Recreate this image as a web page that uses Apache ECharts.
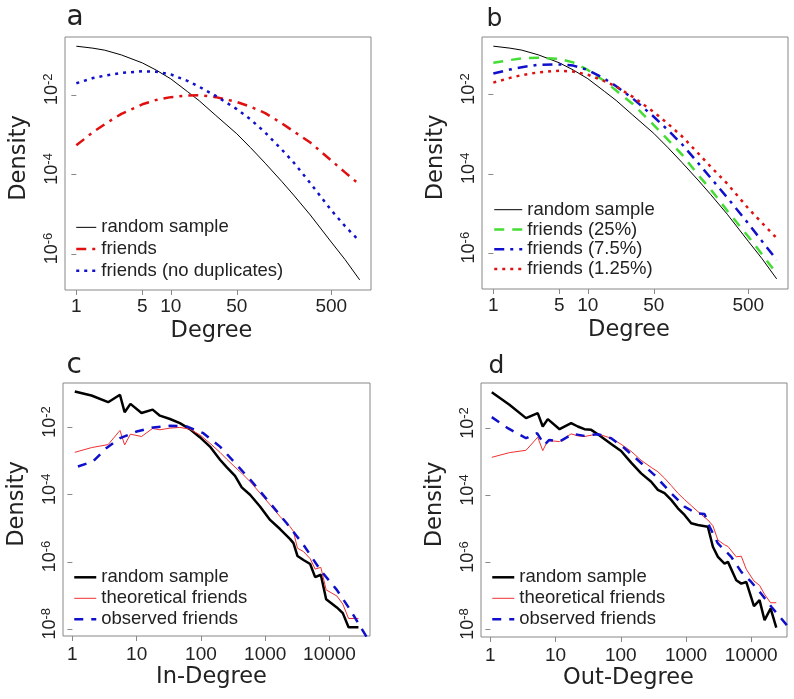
<!DOCTYPE html>
<html><head><meta charset="utf-8">
<script src="https://cdn.jsdelivr.net/npm/echarts@6/dist/echarts.min.js"></script>
<style>html,body{margin:0;padding:0;background:#fff}#c{width:794px;height:699px}</style>
</head><body><div id="c"></div>
<script>
// ---------- DATA (degree values; densities stored as log10 of density) ----------
// Panels a & b : shared degree grid
const degreeAB = [1, 1.5, 2, 3, 5, 7, 10, 15, 20, 30, 50, 70, 100, 150, 200, 300, 500, 700, 1000];
const randomSampleLog10 = [-0.78, -0.83, -0.88, -1.00, -1.20, -1.38, -1.60, -1.92, -2.15, -2.52, -2.98, -3.33, -3.72, -4.18, -4.52, -5.02, -5.70, -6.14, -6.65];
const aFriendsLog10 = [-3.27, -2.94, -2.74, -2.48, -2.24, -2.13, -2.06, -2.02, -2.01, -2.06, -2.18, -2.30, -2.46, -2.72, -2.92, -3.20, -3.65, -3.95, -4.26];
const aFriendsNoDupLog10 = [-1.71, -1.58, -1.52, -1.45, -1.41, -1.42, -1.49, -1.65, -1.80, -2.03, -2.36, -2.62, -2.95, -3.38, -3.70, -4.22, -4.90, -5.30, -5.68];
const bFriends25Log10 = [-1.20, -1.13, -1.09, -1.07, -1.10, -1.19, -1.38, -1.66, -1.90, -2.24, -2.77, -3.13, -3.52, -4.05, -4.39, -4.93, -5.58, -6.03, -6.52];
const bFriends75Log10 = [-1.47, -1.37, -1.31, -1.25, -1.24, -1.27, -1.38, -1.60, -1.79, -2.10, -2.56, -2.89, -3.26, -3.75, -4.10, -4.60, -5.25, -5.70, -6.17];
const bFriends125Log10 = [-1.70, -1.58, -1.51, -1.44, -1.40, -1.42, -1.50, -1.66, -1.80, -2.06, -2.44, -2.73, -3.06, -3.50, -3.82, -4.25, -4.87, -5.24, -5.62];

// Panel c : in-degree
const cInDegree = [1.09, 1.98, 3.6, 5.5, 6.5, 8.0, 11.9, 17.7, 23, 33, 47, 67, 96, 138, 198, 251, 339, 431, 581, 830, 1190, 1700, 2440, 2750, 3170, 3940, 5000, 5980, 7330, 8870, 13000, 16100, 19800, 28200];
const cRandomLog10 = [-0.93, -1.05, -1.25, -1.03, -1.55, -1.30, -1.57, -1.47, -1.65, -1.75, -1.87, -2.05, -2.29, -2.57, -2.96, -3.18, -3.44, -3.78, -4.00, -4.35, -4.75, -5.02, -5.32, -5.44, -5.82, -5.94, -6.06, -6.45, -6.38, -7.11, -7.35, -7.52, -7.94, -7.94];
const cTheoreticalLog10 = [-2.74, -2.60, -2.51, -2.09, -2.52, -2.20, -2.27, -2.03, -2.07, -2.02, -2.00, -2.05, -2.22, -2.47, -2.74, -2.94, -3.18, -3.36, -3.61, -3.95, -4.30, -4.65, -4.95, -5.09, -5.59, -5.69, -5.90, -6.21, -6.16, -6.83, -7.01, -7.25, -7.68, -7.68];
const cObsDegree = [1.22, 2.1, 3.4, 5.5, 10, 18, 33, 60, 109, 198, 360, 655, 1190, 2160, 3940, 7160, 13000, 21000, 39800];
const cObservedLog10 = [-3.16, -3.01, -2.61, -2.32, -2.12, -2.00, -1.95, -1.97, -2.17, -2.57, -3.11, -3.66, -4.25, -4.85, -5.49, -6.23, -6.83, -7.42, -8.30];

// Panel d : out-degree
const dOutDegree = [1.05, 1.96, 3.52, 5.32, 6.35, 7.59, 11.5, 17.3, 21.9, 27.7, 35.1, 44.4, 71.1, 101, 144, 205, 292, 370, 468, 592, 750, 948, 1200, 1520, 2160, 2580, 3080, 3890, 4390, 5890, 7030, 8380, 11000, 13400, 16000, 19800, 24200];
const dRandomLog10 = [-0.92, -1.29, -1.69, -1.54, -1.94, -1.72, -2.02, -1.84, -1.94, -2.02, -2.04, -2.17, -2.46, -2.67, -3.02, -3.34, -3.59, -3.83, -3.93, -4.13, -4.38, -4.58, -4.83, -4.88, -4.93, -5.53, -5.83, -6.03, -5.98, -6.53, -6.63, -6.58, -7.30, -7.12, -7.72, -7.37, -7.94];
const dTheoreticalLog10 = [-2.86, -2.72, -2.65, -2.26, -2.66, -2.36, -2.39, -2.16, -2.22, -2.24, -2.20, -2.16, -2.29, -2.47, -2.68, -2.95, -3.16, -3.29, -3.48, -3.70, -3.93, -4.12, -4.30, -4.48, -4.73, -4.90, -5.33, -5.47, -5.52, -5.83, -5.81, -6.20, -6.55, -6.68, -6.95, -7.20, -7.20];
const dObsDegree = [1.05, 1.85, 3.52, 5.2, 6.75, 8.0, 11.5, 18.3, 27.7, 44.4, 71.1, 114, 182, 329, 592, 948, 1430, 1920, 2300, 3080, 4930, 7030, 10000, 14200, 20300, 36300];
const dObservedLog10 = [-1.66, -1.99, -2.29, -2.14, -2.49, -2.34, -2.39, -2.16, -2.22, -2.17, -2.29, -2.59, -2.94, -3.39, -3.93, -4.33, -4.53, -4.55, -4.93, -5.43, -5.83, -6.28, -6.58, -6.93, -7.32, -7.90];

// tick labels
const xTicksAB = [1, 5, 10, 50, 500];
const xTicksCD = [1, 10, 100, 1000, 10000];
const yTicksAB = [-2, -4, -6];
const yTicksCD = [-2, -4, -6, -8];
const panelLetters = ['a', 'b', 'c', 'd'];
const xNames = ['Degree', 'Degree', 'In-Degree', 'Out-Degree'];
const legendA = ['random sample', 'friends', 'friends (no duplicates)'];
const legendB = ['random sample', 'friends (25%)', 'friends (7.5%)', 'friends (1.25%)'];
const legendCD = ['random sample', 'theoretical friends', 'observed friends'];

// ---------- CHART ----------
const FONT = 'Liberation Sans, Arial, sans-serif';
const TFONT = 'DejaVu Sans, sans-serif';
const TXT = '#222';
const BOX = '#888';
const RED = '#e01010', BLUE = '#1010cc', GREEN = '#44dd33';

const pts = (xs, ys) => xs.map((x, i) => [Math.log10(x), ys[i]]);
const log = v => Math.log10(v);

const grids = [
  {left: 65, top: 37, width: 306, height: 253},
  {left: 482, top: 37, width: 306, height: 252},
  {left: 63, top: 383, width: 307, height: 253},
  {left: 481, top: 383, width: 306, height: 254}
].map(g => Object.assign(g, {show: true, borderColor: BOX, borderWidth: 1, containLabel: false}));

const xRanges = [[-0.12, 3.12], [-0.12, 3.12], [-0.146, 4.63], [-0.144, 4.548]];
const yRanges = [[-6.905, -0.549], [-6.905, -0.549], [-8.2, -0.679], [-8.222, -0.642]];
const xNamePad = [13, 12, 10, 11];

const xAxes = [0, 1, 2, 3].map(i => {
  const ticks = (i < 2 ? xTicksAB : xTicksCD).map(log);
  return {
    type: 'value', gridIndex: i, min: xRanges[i][0], max: xRanges[i][1],
    axisLine: {show: false}, splitLine: {show: false},
    axisTick: {show: true, customValues: ticks, length: 5, lineStyle: {color: BOX, width: 1}},
    axisLabel: {customValues: ticks, margin: i < 2 ? 7 : 9, fontFamily: FONT, fontSize: 19, color: TXT,
      formatter: v => String(Math.round(Math.pow(10, v)))},
    name: xNames[i], nameLocation: 'middle', nameGap: 30,
    nameTextStyle: {fontFamily: TFONT, fontSize: 22.5, color: TXT, padding: [0, xNamePad[i], 0, 0]}
  };
});

const yAxes = [0, 1, 2, 3].map(i => {
  const ticks = (i < 2 ? yTicksAB : yTicksCD);
  return {
    type: 'value', gridIndex: i, min: yRanges[i][0], max: yRanges[i][1],
    axisLine: {show: false}, splitLine: {show: false},
    axisTick: {show: true, customValues: ticks, length: 5, lineStyle: {color: BOX, width: 1}},
    axisLabel: {customValues: ticks, rotate: 90, margin: 3,
      formatter: v => '{b|10}{s|' + Math.round(v) + '}',
      rich: {
        b: {fontFamily: FONT, fontSize: 18, color: TXT, lineHeight: 20, padding: [0, 0, 0, 11]},
        s: {fontFamily: FONT, fontSize: 13, color: TXT, lineHeight: 1, verticalAlign: 'top'}
      }},
    name: 'Density', nameLocation: 'middle', nameGap: 34,
    nameTextStyle: {fontFamily: TFONT, fontSize: 22.5, color: TXT, padding: [0, 0, 0, 11]}
  };
});

const DASHDOT = [10, 6, 3, 6], DOT = [3, 5], DASH = [10, 8], DASH2 = [9, 8];
// style per legend entry, used both for series and legend icon
const styles = [
  [['#000', 1], [RED, 2.5, DASHDOT], [BLUE, 2.5, DOT]],
  [['#000', 1], [GREEN, 2.5, DASH], [BLUE, 2.5, DASHDOT], [RED, 2.5, DOT]],
  [['#000', 2.5], ['#f03030', 1], [BLUE, 2.5, DASH2]],
  [['#000', 2.5], ['#f03030', 1], [BLUE, 2.5, DASH2]]
];
const names = [legendA, legendB, legendCD, legendCD];
const dataSets = [
  [pts(degreeAB, randomSampleLog10), pts(degreeAB, aFriendsLog10), pts(degreeAB, aFriendsNoDupLog10)],
  [pts(degreeAB, randomSampleLog10), pts(degreeAB, bFriends25Log10), pts(degreeAB, bFriends75Log10), pts(degreeAB, bFriends125Log10)],
  [pts(cInDegree, cRandomLog10), pts(cInDegree, cTheoreticalLog10), pts(cObsDegree, cObservedLog10)],
  [pts(dOutDegree, dRandomLog10), pts(dOutDegree, dTheoreticalLog10), pts(dObsDegree, dObservedLog10)]
];
const lstyle = s => ({color: s[0], width: s[1], type: s[2] || 'solid', cap: 'butt'});

const series = [];
dataSets.forEach((sets, p) => sets.forEach((d, k) => {
  series.push({
    type: 'line', name: p + '|' + names[p][k], xAxisIndex: p, yAxisIndex: p,
    data: d, symbol: 'none', showSymbol: false, clip: true, silent: true,
    lineStyle: lstyle(styles[p][k]), itemStyle: {color: styles[p][k][0]}
  });
}));

const legendCfg = [
  {left: 75, top: 216.5, w: 20, lh: 21.7},
  {left: 493, top: 199.8, w: 28, lh: 19.8},
  {left: 73, top: 566.8, w: 22, lh: 21},
  {left: 491, top: 566.8, w: 22, lh: 21}
];
const legends = legendCfg.map((c, p) => ({
  data: names[p].map((n, k) => ({name: p + '|' + n, lineStyle: lstyle(styles[p][k])})),
  left: c.left, top: c.top, orient: 'vertical',
  padding: 0, itemGap: 0, itemWidth: c.w, itemHeight: 10, selectedMode: false,
  itemStyle: {opacity: 0, borderWidth: 0},
  formatter: n => n.split('|')[1],
  textStyle: {fontFamily: FONT, fontSize: 18.5, color: TXT, lineHeight: c.lh}
}));

const titlePos = [{left: 66.5, top: 3.6, fs: 28}, {left: 486.5, top: 7.1, fs: 25}, {left: 66.5, top: 351.3, fs: 28}, {left: 488.5, top: 353.9, fs: 25}];
const titles = titlePos.map((p, i) => ({
  text: panelLetters[i], left: p.left, top: p.top, padding: 0,
  textStyle: {fontFamily: TFONT, fontWeight: 'normal', fontSize: p.fs, lineHeight: p.fs, color: TXT}
}));

const chart = echarts.init(document.getElementById('c'), null, {renderer: 'canvas'});
chart.setOption({
  animation: false, backgroundColor: '#fff',
  title: titles, grid: grids, xAxis: xAxes, yAxis: yAxes, legend: legends, series: series
});
</script></body></html>
